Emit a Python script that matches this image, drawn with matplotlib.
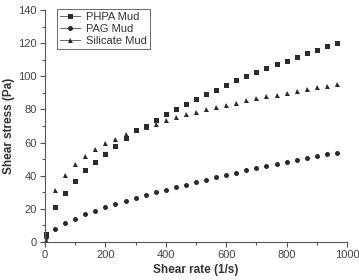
import matplotlib
matplotlib.use("Agg")
import matplotlib.pyplot as plt
from matplotlib.lines import Line2D
from matplotlib.ticker import MultipleLocator

plt.rcParams['font.family'] = ['Liberation Sans', 'DejaVu Sans']

# tasa de corte (1/s)
tasa_corte = [3, 33, 67, 100, 133, 167, 200, 233, 267, 300, 333, 367, 400, 433,
              467, 500, 533, 567, 600, 633, 667, 700, 733, 767, 800, 833, 867,
              900, 933, 967]

esfuerzo_phpa = [5, 20.9, 29.8, 36.8, 43.3, 48.3, 53.3, 58, 63, 67.4, 70, 73.4,
                 77.2, 80.5, 83.5, 86.4, 89.3, 92, 94.8, 97.6, 100, 102.6, 105,
                 107.2, 109.4, 111.6, 113.9, 116.1, 118.1, 120.3]
esfuerzo_pag = [3, 8.1, 11.5, 14.1, 16.7, 18.7, 20.9, 22.9, 24.7, 26.6, 28.4, 30,
                31.4, 33, 34.6, 36, 37.4, 39, 40.4, 41.9, 43.3, 44.5, 45.7, 46.9,
                48.1, 49.3, 50.7, 51.9, 52.9, 53.9]
esfuerzo_silicato = [1, 31.2, 40.7, 46.9, 51.9, 55.9, 59.6, 62.4, 65, 67.4, 69.5,
                     71.5, 73.5, 75.5, 77.2, 78.7, 80.2, 81.5, 82.9, 84.1, 85.5,
                     86.9, 87.9, 88.9, 90.2, 91.1, 92.3, 93.4, 94.1, 95.2]

nombres = ["PHPA Mud", "PAG Mud", "Silicate Mud"]
marcadores = ["s", "o", "^"]
color = "#2b2b2b"

fig = plt.figure(figsize=(3.59, 2.80), dpi=100)
ax = fig.add_axes([45 / 359, 1 - 242 / 280, 302 / 359, 232 / 280])

series = [esfuerzo_phpa, esfuerzo_pag, esfuerzo_silicato]
for valores, marca in zip(series, marcadores):
    ax.plot(tasa_corte, valores, linestyle="none", marker=marca, markersize=3.6,
            color=color, markeredgewidth=0, clip_on=False)

ax.set_xlim(0, 1000)
ax.set_ylim(0, 140)
ax.xaxis.set_major_locator(MultipleLocator(200))
ax.xaxis.set_minor_locator(MultipleLocator(100))
ax.yaxis.set_major_locator(MultipleLocator(20))
ax.yaxis.set_minor_locator(MultipleLocator(10))

for lado in ["top", "right"]:
    ax.spines[lado].set_visible(False)
for lado in ["left", "bottom"]:
    ax.spines[lado].set_color("#555555")
    ax.spines[lado].set_linewidth(0.8)

ax.tick_params(which="both", colors="#555555", labelcolor="#444444", labelsize=8,
               width=0.8)
ax.tick_params(which="major", length=3.5, pad=2.5)
ax.tick_params(which="minor", length=2)

ax.set_xlabel("Shear rate (1/s)", fontsize=8.5, fontweight="bold", color="#333333",
              labelpad=3)
ax.set_ylabel("Shear stress (Pa)", fontsize=8.5, fontweight="bold", color="#333333",
              labelpad=2)

manejadores = [Line2D([0], [0], color="#666666", linewidth=0.7, marker=m,
                      markersize=3.6, markerfacecolor=color, markeredgewidth=0)
               for m in marcadores]
leyenda = ax.legend(manejadores, nombres, loc="upper left",
                    bbox_to_anchor=(0.04, 1.005), fontsize=8, frameon=True,
                    fancybox=False, edgecolor="#444444", handlelength=1.8,
                    handletextpad=0.5, borderpad=0.3, labelspacing=0.15,
                    borderaxespad=0)
leyenda.get_frame().set_linewidth(0.7)
for texto in leyenda.get_texts():
    texto.set_color("#333333")

fig.savefig("out.png", dpi=100)
